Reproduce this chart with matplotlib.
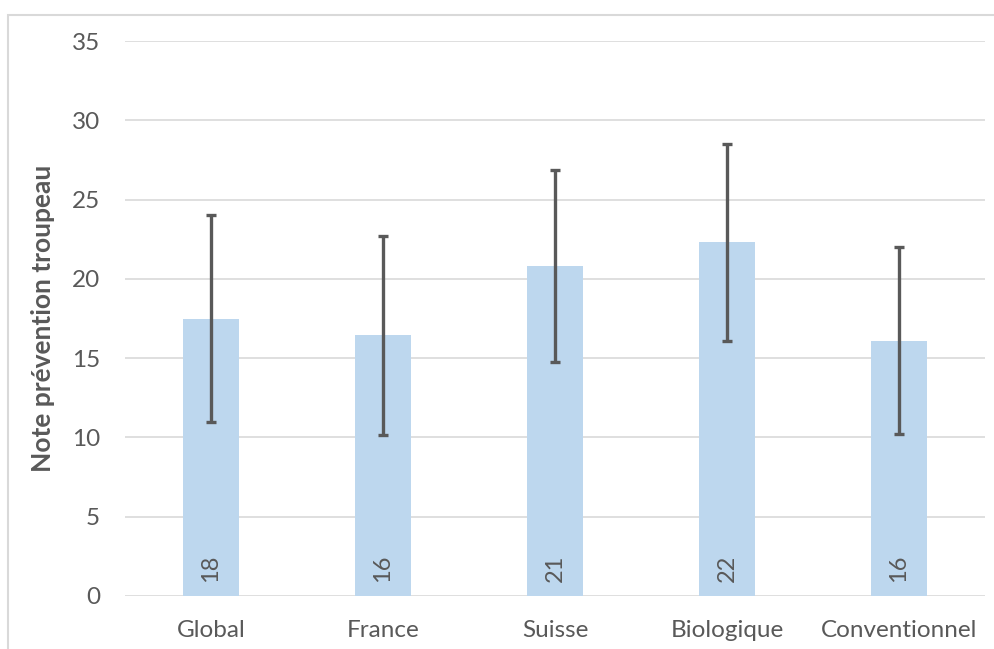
import matplotlib.pyplot as plt
from matplotlib.patches import Rectangle

# Donnees
categories = ["Global", "France", "Suisse", "Biologique", "Conventionnel"]
moyennes = [17.5, 16.45, 20.8, 22.3, 16.1]
ecarts = [6.5, 6.27, 6.04, 6.2, 5.88]
etiquettes = ["18", "16", "21", "22", "16"]

W, H = 994, 649
fig = plt.figure(figsize=(W / 100, H / 100), dpi=100)
plt.rcParams['font.family'] = ['Lato', 'DejaVu Sans']

gris = "#595959"
grille = "#d9d9d9"

# cadre du graphique (coupe a droite et en bas)
fig.patches.append(Rectangle((8 / W, -0.1), 1.2, (H - 15) / H + 0.1, transform=fig.transFigure,
                             fill=False, edgecolor=grille, linewidth=1.5, figure=fig))

ax = fig.add_axes([125 / W, (H - 596) / H, 860 / W, (596 - 41) / H])
x = list(range(len(categories)))
ax.bar(x, moyennes, width=0.33, color="#BDD7EE", zorder=2)
ax.errorbar(x, moyennes, yerr=ecarts, fmt="none", ecolor=gris, elinewidth=2.4,
            capsize=3.5, capthick=2.4, zorder=3)

for xi, lab in zip(x, etiquettes):
    ax.text(xi, 1.75, lab, rotation=90, ha="center", va="center", fontsize=17, color=gris, zorder=4)

ax.set_xlim(-0.5, len(categories) - 0.5)
ax.set_ylim(0, 35)
ax.set_yticks(range(0, 36, 5))
ax.set_xticks(x)
ax.set_xticklabels(categories)
ax.tick_params(axis="both", length=0, labelsize=17.5, colors=gris)
ax.tick_params(axis="y", pad=18)
ax.tick_params(axis="x", pad=17)
ax.grid(axis="y", color=grille, linewidth=1.2, zorder=0)
for s in ax.spines.values():
    s.set_visible(False)

ax.set_ylabel("Note prévention troupeau", fontsize=19, fontweight="bold", color=gris)
ax.yaxis.set_label_coords(-0.081, 0.5)

fig.savefig("out.png", dpi=100)
